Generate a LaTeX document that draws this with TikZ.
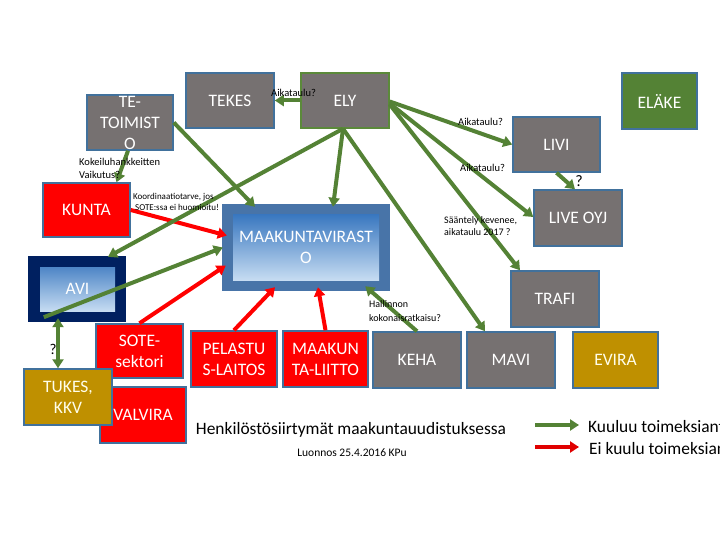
\documentclass[tikz,border=0pt]{standalone}
\usepackage{fontspec}
\setmainfont{Carlito}
\usetikzlibrary{arrows.meta,calc}
\definecolor{boxgray}{HTML}{767171}
\definecolor{boxedge}{HTML}{41719C}
\definecolor{arrgreen}{HTML}{548235}
\definecolor{arrred}{HTML}{FF0000}
\definecolor{elakegreen}{HTML}{548235}
\definecolor{mustard}{HTML}{BF9000}
\definecolor{avinavy}{HTML}{002060}
\definecolor{mvouter}{HTML}{4874A8}
\definecolor{shtop}{HTML}{3A78C0}
\definecolor{shbot}{HTML}{C6DCF2}
\definecolor{elyedge}{HTML}{5B8A3A}
\newcommand\bxfont{\fontsize{17.5}{21}\selectfont}
\newcommand\lblfont{\fontsize{10.5}{13}\selectfont}
\begin{document}
\begin{tikzpicture}[x=1pt,y=-1pt,
  box/.style={rectangle, draw=boxedge, line width=1.5pt, inner sep=0pt, text=white, font=\bxfont, align=center},
  boxtxt/.style={inner sep=0pt, text=white, font=\bxfont, align=center},
  lbl/.style={inner sep=0pt, font=\lblfont, align=left, anchor=west},
  garrow/.style={draw=arrgreen, line width=4pt, -{Triangle[length=9pt,width=11pt]}},
  rarrow/.style={draw=arrred, line width=4pt, -{Triangle[length=9pt,width=11pt]}}]
\useasboundingbox (0,0) rectangle (720,540);
\fill[white] (0,0) rectangle (720,540);

% boxes
\node[box, fill=boxgray, minimum width=86pt, minimum height=55pt] (te) at (130,122.5) {};
\node[boxtxt] (telbl) at (te.center) {TE-\\TOIMIST\\O};
\node[box, fill=boxgray, minimum width=88pt, minimum height=55pt] (tekes) at (230,100.5) {TEKES};
\node[box, fill=boxgray, draw=elyedge, minimum width=88pt, minimum height=55pt] (ely) at (345,100.5) {ELY};
\node[box, fill=elakegreen, minimum width=75pt, minimum height=56pt] (elake) at (659.5,101) {ELÄKE};
\node[box, fill=boxgray, minimum width=87pt, minimum height=55pt] (livi) at (556.5,144.5) {LIVI};
\node[box, fill=boxgray, minimum width=88pt, minimum height=56pt] (liveoyj) at (578,218) {LIVE OYJ};
\node[box, fill=arrred, minimum width=87pt, minimum height=54pt] (kunta) at (86.5,210) {KUNTA};
\node[rectangle, fill=mvouter, minimum width=168pt, minimum height=87pt, inner sep=0pt] (maak) at (306,247.5) {};
\node[rectangle, top color=shtop, bottom color=shbot, minimum width=146pt, minimum height=65pt, inner sep=0pt] (maakin) at (maak.center) {};
\node[boxtxt] (maaklbl) at (maak.center) {MAAKUNTAVIRAST\\O};
\node[rectangle, fill=avinavy, minimum width=98pt, minimum height=66pt, inner sep=0pt] (avi) at (77,289) {};
\node[rectangle, top color=shtop!90!white, bottom color=shbot, minimum width=75pt, minimum height=44pt, inner sep=0pt] (aviin) at (77.5,289) {};
\node[boxtxt] (avilbl) at (aviin.center) {AVI};
\node[box, fill=arrred, minimum width=87pt, minimum height=54pt] (sote) at (139.5,351) {SOTE-\\sektori};
\node[box, fill=arrred, minimum width=86pt, minimum height=56pt] (valvira) at (143,415) {VALVIRA};
\node[box, fill=mustard, minimum width=88pt, minimum height=56pt, text=white!92!yellow] (tukes) at (68,397) {TUKES,\\KKV};
\node[box, fill=arrred, minimum width=86pt, minimum height=56pt] (pelastus) at (234,359) {PELASTU\\S-LAITOS};
\node[box, fill=arrred, minimum width=85pt, minimum height=56pt] (maakl) at (325.5,359) {MAAKUN\\TA-LIITTO};
\node[box, fill=boxgray, minimum width=88pt, minimum height=56pt] (keha) at (417,360) {KEHA};
\node[box, fill=boxgray, minimum width=88pt, minimum height=56pt] (mavi) at (511,360) {MAVI};
\node[box, fill=mustard, minimum width=85pt, minimum height=56pt, text=white!92!yellow] (evira) at (615.5,360) {EVIRA};
\node[box, fill=boxgray, minimum width=88pt, minimum height=56pt] (trafi) at (555,299) {TRAFI};

% connectors
\draw[garrow] (ely.west) -- (tekes.east);
\draw[garrow] ([xshift=-2pt]te.south) -- ([xshift=30pt]kunta.north);
\draw[garrow] (te.east) -- ([xshift=-51pt,yshift=-3pt]maak.north);
\draw[rarrow] (kunta.east) -- ([xshift=5pt,yshift=12pt]maak.west);
\draw[garrow] ([xshift=-2pt]ely.south) -- ([xshift=31pt,yshift=-1pt]avi.north);
\draw[garrow] ([xshift=-2pt]ely.south) -- ([xshift=27pt,yshift=-3pt]maak.north);
\draw[garrow] ([xshift=-2pt]ely.south) -- ([xshift=-26pt]mavi.north);
\draw[garrow] ([yshift=-1pt]ely.east) -- (livi.west);
\draw[garrow] ([yshift=-3pt]ely.east) -- ([yshift=1pt]liveoyj.west);
\draw[garrow] ([yshift=-4pt]ely.east) -- ([xshift=-35pt]trafi.north);
\draw[garrow] (livi.south) -- ([xshift=-3pt]liveoyj.north);
\draw[garrow] ([shift={(16pt,5pt)}]avi.south west) -- ([xshift=1pt]maak.west);
\draw[draw=arrgreen, line width=4pt, {Triangle[length=9pt,width=11pt]}-{Triangle[length=9pt,width=11pt]}] ([xshift=-19pt,yshift=4pt]avi.south) -- ([xshift=-10pt]tukes.north);
\draw[rarrow] (sote.north) -- ([xshift=4pt,yshift=-18pt]maak.west);
\draw[rarrow] (pelastus.north) -- ([xshift=-31pt,yshift=4pt]maak.south);
\draw[rarrow] (maakl.north) -- ([xshift=12pt,yshift=4pt]maak.south);
\draw[garrow] (keha.north) -- ([xshift=-25pt,yshift=5pt]maak.south east);

% labels
\node[lbl] (l1) at (271,93) {Aikataulu?};
\node[lbl] (l2) at (79,168.5) {Kokeiluhankkeitten\\Vaikutus?};
\node[lbl, font=\fontsize{9}{10.5}\selectfont] (l3) at (133,202) {Koordinaatiotarve, jos\\\hspace{2pt}SOTE:ssa ei huomioitu!};
\node[lbl] (l4) at (458,122) {Aikataulu?};
\node[lbl] (l5) at (460,168) {Aikataulu?};
\node[lbl, font=\fontsize{10}{12}\selectfont] (l6) at (444,226) {Sääntely kevenee,\\aikataulu 2017 ?};
\node[lbl, font=\fontsize{10}{14}\selectfont] (l7) at (369,311) {Hallinnon\\kokonaisratkaisu?};
\node[inner sep=0pt, font=\fontsize{15}{15}\selectfont] (q1) at (53,349) {?};
\node[inner sep=0pt, font=\fontsize{16}{16}\selectfont] (q2) at (579,181) {?};

% title and legend
\node[inner sep=0pt, font=\fontsize{17.4}{19}\selectfont] (title) at (351,430) {Henkilöstösiirtymät maakuntauudistuksessa};
\node[inner sep=0pt, font=\fontsize{11.5}{13}\selectfont] (draft) at (352,453) {Luonnos 25.4.2016 KPu};
\coordinate (lg1a) at (535,425);
\coordinate (lg1b) at (579,425);
\coordinate (lg2a) at (535,447);
\coordinate (lg2b) at (579,447);
\draw[garrow] (lg1a) -- (lg1b);
\draw[draw=arrred!88!black, line width=4pt, -{Triangle[length=9pt,width=11pt]}] (lg2a) -- (lg2b);
\node[inner sep=0pt, anchor=west, font=\fontsize{17.4}{19}\selectfont] (lgt1) at (588,427) {Kuuluu toimeksiantoon};
\node[inner sep=0pt, anchor=west, font=\fontsize{17.4}{19}\selectfont] (lgt2) at (589,449) {Ei kuulu toimeksiantoon};
\end{tikzpicture}
\end{document}
